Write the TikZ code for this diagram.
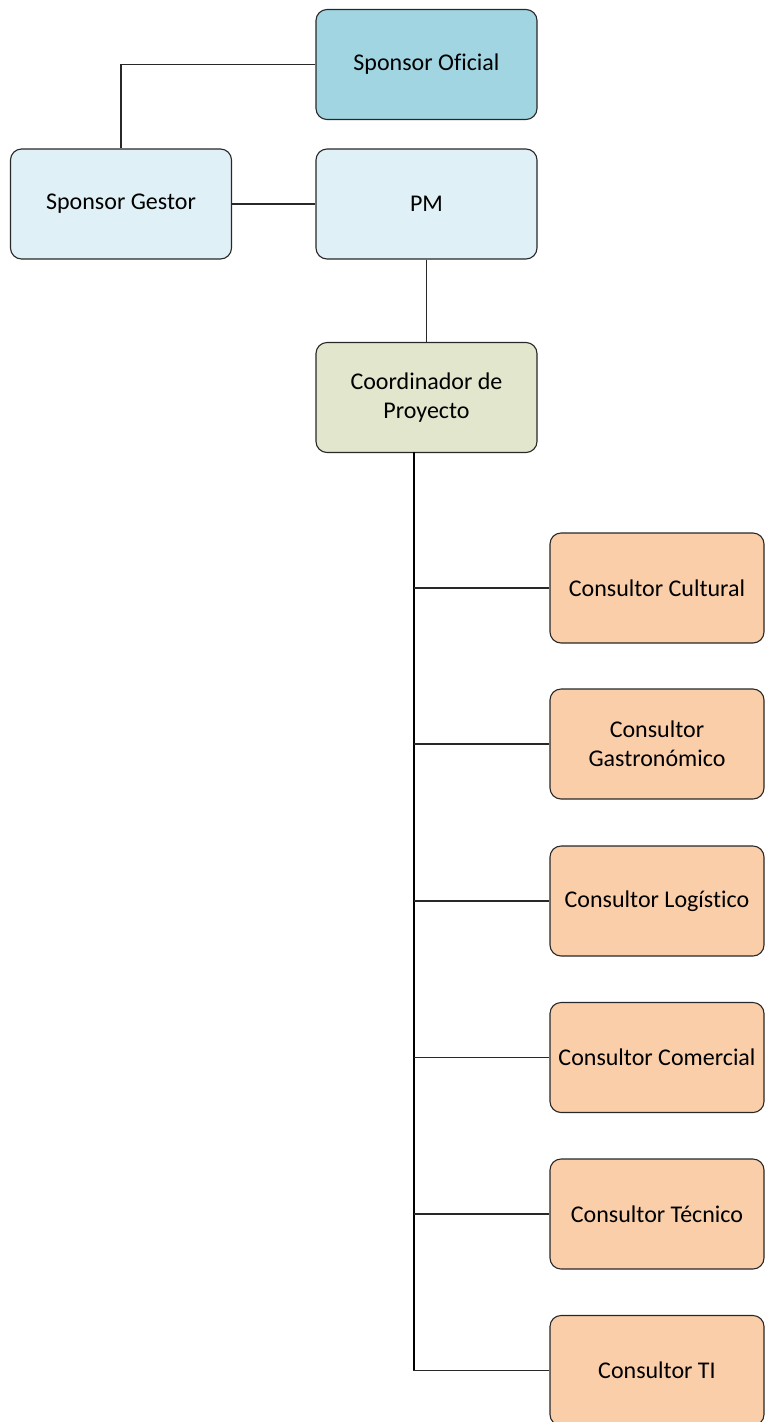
\documentclass[tikz,border=0pt]{standalone}
\usepackage{fontspec}
\setmainfont[Ligatures=NoCommon]{Carlito}
\definecolor{ofblue}{RGB}{161,213,226}
\definecolor{ltblue}{RGB}{223,240,246}
\definecolor{ltgreen}{RGB}{226,230,204}
\definecolor{peach}{RGB}{251,206,170}
\definecolor{edge}{RGB}{40,40,40}
\begin{document}
\begin{tikzpicture}[x=1pt,y=-1pt,
  box/.style={draw=edge,line width=1.1pt,rounded corners=11pt,align=center,
    font=\fontsize{24}{29}\selectfont,inner sep=0pt},
  topbox/.style={box,minimum width=221pt,minimum height=110pt},
  consbox/.style={box,fill=peach,minimum width=214pt,minimum height=110pt},
  link/.style={draw=edge,line width=1.1pt},
  trunk/.style={draw=black,line width=2pt}]
\useasboundingbox (0,0) rectangle (764,1422);

\node[topbox,fill=ofblue] (sof) at (426.5,64.5) {Sponsor Oficial};
\node[topbox,fill=ltblue] (sg) at (121,204) {Sponsor Gestor};
\node[topbox,fill=ltblue] (pm) at (426.5,204) {PM};
\node[topbox,fill=ltgreen] (co) at (426.5,397.5) {Coordinador de\\Proyecto};

\node[consbox] (c1) at (657,588) {Consultor Cultural};
\node[consbox] (c2) at (657,744) {Consultor\\Gastronómico};
\node[consbox] (c3) at (657,901) {Consultor Logístico};
\node[consbox] (c4) at (657,1057.5) {Consultor Comercial};
\node[consbox] (c5) at (657,1214) {Consultor Técnico};
\node[consbox] (c6) at (657,1370.5) {Consultor TI};

\draw[link] (sg.north) |- (sof.west);
\draw[link] (sg.east) -- (pm.west);
\draw[link] (pm.south) -- (co.north);

\coordinate (tk) at (414,452);
\draw[trunk] (tk) -- (414,1370.5);
\foreach \c in {c1,c2,c3,c4,c5}
  \draw[link] (414,0 |- \c.west) -- (\c.west);
\draw[link] (413,1370.5) -- (c6.west);
\end{tikzpicture}
\end{document}
